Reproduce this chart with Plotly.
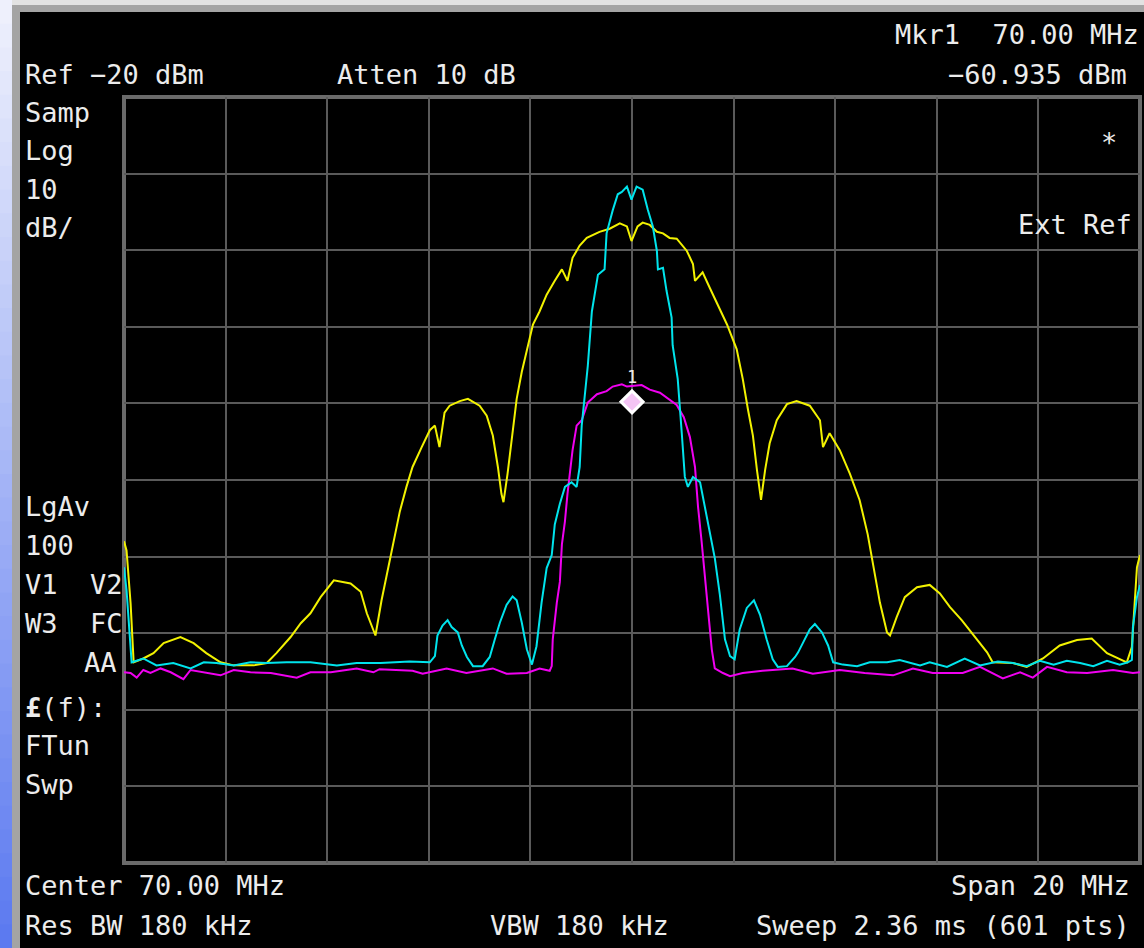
import plotly.graph_objects as go

# ---------------- data ----------------
# Frequency axis: 60..80 MHz (center 70 MHz, span 20 MHz); level axis -120..-20 dBm
x_range = [60.0, 80.0]
y_range = [-120.0, -20.0]

yellow_freq = [
    60.00, 60.05, 60.13, 60.19, 60.38, 60.58, 60.78, 61.11, 61.37, 61.62,
    61.90, 62.16, 62.55, 62.81, 63.00, 63.28, 63.48, 63.67, 63.87, 64.13,
    64.46, 64.66, 64.78, 64.95, 65.07, 65.13, 65.23, 65.33, 65.43, 65.56,
    65.68, 65.86, 66.02, 66.12, 66.21, 66.31, 66.41, 66.61, 66.77, 67.00,
    67.14, 67.26, 67.36, 67.43, 67.47, 67.55, 67.63, 67.73, 67.83, 67.93,
    68.05, 68.18, 68.32, 68.48, 68.62, 68.73, 68.83, 68.97, 69.11, 69.36,
    69.56, 69.76, 69.90, 69.99, 70.11, 70.21, 70.35, 70.49, 70.61, 70.74,
    70.88, 71.08, 71.20, 71.24, 71.39, 71.53, 71.69, 71.87, 72.06, 72.18,
    72.28, 72.38, 72.46, 72.54, 72.62, 72.71, 72.85, 73.05, 73.24, 73.50,
    73.70, 73.76, 73.89, 74.09, 74.29, 74.48, 74.64, 74.78, 74.88, 75.02,
    75.08, 75.21, 75.37, 75.61, 75.86, 76.06, 76.26, 76.49, 76.75, 76.99,
    77.10, 77.50, 77.77, 78.09, 78.42, 78.76, 79.05, 79.35, 79.74, 79.84,
    79.94, 80.00,
]
yellow_dbm = [
    -78.0, -79.2, -86.1, -93.8, -93.3, -92.6, -91.3, -90.5, -91.3, -92.6,
    -93.8, -94.2, -94.2, -93.9, -92.6, -90.5, -88.7, -87.4, -85.3, -83.1,
    -83.5, -84.6, -87.4, -90.3, -85.7, -83.7, -80.6, -77.1, -74.1, -70.9,
    -68.3, -65.7, -63.5, -62.9, -65.7, -61.2, -60.3, -59.7, -59.4, -60.3,
    -61.6, -64.2, -68.3, -71.8, -72.9, -69.2, -64.8, -59.4, -55.9, -52.9,
    -49.7, -48.0, -45.8, -44.0, -42.5, -44.0, -41.0, -39.4, -38.4, -37.6,
    -37.2, -36.5, -36.9, -38.8, -36.9, -36.4, -36.7, -37.6, -37.8, -38.4,
    -38.5, -40.1, -41.8, -44.0, -42.9, -44.9, -47.1, -49.7, -52.9, -56.8,
    -60.7, -64.2, -68.7, -72.6, -68.7, -65.2, -62.2, -60.1, -59.7, -60.3,
    -62.2, -65.7, -63.9, -66.1, -69.2, -72.6, -77.1, -82.4, -86.0, -89.9,
    -90.3, -87.9, -85.3, -84.0, -83.7, -84.8, -86.6, -88.3, -90.5, -92.5,
    -93.8, -93.9, -94.4, -93.3, -91.6, -90.9, -90.7, -92.6, -93.8, -91.8,
    -81.4, -79.8,
]

cyan_freq = [
    60.00, 60.05, 60.15, 60.38, 60.64, 60.97, 61.31, 61.57, 61.82, 62.16,
    62.49, 62.81, 63.20, 63.67, 64.19, 64.58, 65.05, 65.62, 66.02, 66.12,
    66.17, 66.27, 66.37, 66.45, 66.57, 66.65, 66.75, 66.87, 67.06, 67.20,
    67.30, 67.40, 67.53, 67.65, 67.73, 67.83, 67.93, 68.03, 68.12, 68.22,
    68.32, 68.42, 68.48, 68.58, 68.68, 68.81, 68.91, 68.97, 69.01, 69.07,
    69.13, 69.21, 69.33, 69.46, 69.50, 69.62, 69.72, 69.80, 69.90, 69.99,
    70.09, 70.21, 70.31, 70.41, 70.49, 70.51, 70.61, 70.68, 70.78, 70.80,
    70.90, 70.98, 71.04, 71.10, 71.20, 71.34, 71.43, 71.53, 71.63, 71.73,
    71.83, 71.93, 72.02, 72.12, 72.26, 72.40, 72.52, 72.65, 72.77, 72.87,
    73.05, 73.21, 73.27, 73.37, 73.50, 73.60, 73.74, 73.86, 73.96, 74.15,
    74.43, 74.68, 75.02, 75.27, 75.67, 75.86, 76.20, 76.55, 76.85, 77.20,
    77.50, 77.77, 78.03, 78.30, 78.56, 78.82, 79.08, 79.35, 79.60, 79.76,
    79.84, 79.86, 79.94, 80.00,
]
cyan_dbm = [
    -81.4, -84.4, -93.8, -93.3, -94.2, -93.9, -94.6, -93.8, -93.9, -94.2,
    -93.8, -93.9, -93.8, -93.8, -94.2, -93.9, -93.9, -93.7, -93.8, -93.0,
    -90.3, -89.0, -88.3, -89.2, -89.9, -91.6, -93.1, -94.3, -94.3, -93.1,
    -90.8, -88.6, -86.3, -85.2, -85.7, -88.6, -92.1, -94.1, -91.7, -86.0,
    -81.5, -79.8, -75.8, -73.1, -70.9, -70.3, -70.9, -68.3, -62.9, -59.4,
    -55.1, -48.0, -43.2, -42.5, -37.8, -34.8, -32.7, -32.4, -31.7, -33.4,
    -31.7, -32.1, -34.7, -36.9, -40.1, -42.5, -42.3, -45.3, -48.8, -52.4,
    -56.8, -63.9, -69.6, -70.9, -69.6, -70.3, -73.5, -77.1, -80.2, -85.0,
    -90.8, -93.0, -93.4, -89.5, -86.7, -85.7, -87.6, -90.8, -93.4, -94.4,
    -94.3, -93.1, -92.5, -91.2, -89.5, -88.8, -89.9, -91.6, -93.8, -94.1,
    -94.3, -93.8, -93.8, -93.5, -94.2, -93.8, -94.4, -93.3, -94.2, -93.7,
    -93.9, -94.3, -93.6, -94.1, -93.6, -93.9, -94.3, -93.6, -94.1, -93.8,
    -93.5, -89.2, -85.3, -83.7,
]

magenta_freq = [
    60.00, 60.13, 60.25, 60.38, 60.52, 60.72, 60.92, 61.17, 61.31, 61.57,
    61.90, 62.16, 62.49, 62.89, 63.40, 63.67, 64.07, 64.58, 64.91, 65.03,
    65.68, 65.88, 66.35, 66.74, 67.26, 67.53, 67.93, 68.18, 68.38, 68.42,
    68.44, 68.52, 68.58, 68.62, 68.68, 68.73, 68.79, 68.83, 68.91, 69.01,
    69.13, 69.31, 69.50, 69.62, 69.80, 69.90, 70.19, 70.35, 70.55, 70.74,
    70.88, 71.02, 71.14, 71.24, 71.30, 71.37, 71.43, 71.49, 71.57, 71.63,
    71.79, 71.93, 72.18, 72.57, 73.16, 73.56, 74.09, 74.58, 75.14, 75.53,
    75.92, 76.51, 76.85, 77.30, 77.64, 77.89, 78.17, 78.56, 78.96, 79.47,
    79.86, 80.00,
]
magenta_dbm = [
    -95.1, -95.2, -95.8, -94.8, -95.2, -94.6, -95.1, -96.0, -94.8, -95.1,
    -95.5, -94.8, -95.1, -95.2, -95.8, -95.1, -95.1, -94.6, -95.1, -94.7,
    -94.9, -95.3, -94.6, -95.2, -94.6, -95.3, -95.2, -94.6, -94.9, -94.3,
    -90.8, -86.0, -83.3, -78.4, -75.4, -71.8, -68.3, -66.1, -62.9, -62.2,
    -59.9, -58.8, -58.4, -57.8, -57.5, -57.8, -57.6, -58.2, -58.6, -59.5,
    -60.2, -61.8, -64.4, -68.3, -73.5, -78.0, -82.4, -86.9, -92.1, -94.6,
    -95.2, -95.6, -95.2, -94.9, -94.6, -95.3, -94.8, -95.2, -95.5, -94.6,
    -95.2, -95.2, -94.4, -95.9, -95.1, -95.8, -94.4, -95.1, -95.2, -94.8,
    -95.2, -95.1,
]

marker_freq = [70.00]
marker_level = [-59.8]
marker_label = "1"

# instrument annotations
mkr_text = "Mkr1\u00a0\u00a070.00 MHz"
mkr_level_text = "\u221260.935 dBm"
ref_text = "Ref \u221220 dBm"
atten_text = "Atten 10 dB"
left_top_labels = ["Samp", "Log", "10", "dB/"]
left_bottom_labels = ["LgAv", "100", "V1\u00a0\u00a0V2", "W3\u00a0\u00a0FC"]
left_bottom_labels2 = ["<b>£</b>(f):", "FTun", "Swp"]
bottom_texts = ["Center 70.00 MHz", "Span 20 MHz", "Res BW 180 kHz",
                "VBW 180 kHz", "Sweep 2.36 ms (601 pts)"]

# ---------------- layout helpers ----------------
W, H = 1144, 948
ML, MR, MT, MB = 124, 4, 97, 85
PW, PH = W - ML - MR, H - MT - MB


def px(x):
    return (x - ML) / PW


def py(y):
    return (H - MB - y) / PH


FONT = "DejaVu Sans Mono"
TXT = "#ececec"
FS = 27

fig = go.Figure()

fig.add_trace(go.Scatter(x=magenta_freq, y=magenta_dbm, mode="lines",
                         line=dict(color="#f000f0", width=2), hoverinfo="skip"))
fig.add_trace(go.Scatter(x=yellow_freq, y=yellow_dbm, mode="lines",
                         line=dict(color="#f2f200", width=2), hoverinfo="skip"))
fig.add_trace(go.Scatter(x=cyan_freq, y=cyan_dbm, mode="lines",
                         line=dict(color="#00e4ec", width=2), hoverinfo="skip"))
fig.add_trace(go.Scatter(x=marker_freq, y=marker_level, mode="markers",
                         marker=dict(symbol="diamond", size=17, color="#f4c4f4",
                                     line=dict(width=3, color="white")),
                         hoverinfo="skip"))

ann = []


def add_text(t, x, y, anchor="left", size=FS):
    ann.append(dict(text=t, x=px(x), y=py(y), xref="paper", yref="paper",
                    xanchor=anchor, yanchor="middle", showarrow=False,
                    font=dict(family=FONT, size=size, color=TXT)))


add_text(mkr_text, 1141, 34, "right")
add_text(ref_text, 23, 75)
add_text(atten_text, 335, 75)
add_text(mkr_level_text, 1129, 75, "right")
for i, t in enumerate(left_top_labels):
    add_text(t, 23, 112 + i * 38.5)
add_text("*", 1119, 143, "right")
add_text("Ext Ref", 1134, 225, "right")
for i, t in enumerate(left_bottom_labels):
    add_text(t, 23, 506 + i * 39)
add_text("AA", 119, 662, "right")
for i, t in enumerate(left_bottom_labels2):
    add_text(t, 23, 707 + i * 38.5)
add_text(bottom_texts[0], 23, 885)
add_text(bottom_texts[1], 1132, 885, "right")
add_text(bottom_texts[2], 23, 926)
add_text(bottom_texts[3], 488, 926)
add_text(bottom_texts[4], 1132, 926, "right")

ann.append(dict(text=marker_label, x=marker_freq[0], y=marker_level[0],
                xref="x", yref="y", yshift=25, showarrow=False,
                font=dict(family=FONT, size=17, color=TXT)))

shapes = []
# bezel: gradient strip on the left, light strip on top, grey frame
top_c = (238, 240, 252)
bot_c = (92, 122, 240)
N = 40
for i in range(N):
    t = i / (N - 1)
    c = tuple(int(round(top_c[k] + (bot_c[k] - top_c[k]) * t)) for k in range(3))
    y0 = H * i / N
    y1 = H * (i + 1) / N + 1
    shapes.append(dict(type="rect", xref="paper", yref="paper",
                       x0=px(0), x1=px(12), y0=py(y1), y1=py(y0),
                       fillcolor="rgb(%d,%d,%d)" % c, line=dict(width=0), layer="above"))
shapes.append(dict(type="rect", xref="paper", yref="paper",
                   x0=px(12), x1=px(W + 2), y0=py(5), y1=py(-2),
                   fillcolor="#e2e2e2", line=dict(width=0), layer="above"))
shapes.append(dict(type="rect", xref="paper", yref="paper",
                   x0=px(12), x1=px(W + 2), y0=py(12), y1=py(5),
                   fillcolor="#a4a4a4", line=dict(width=0), layer="above"))
shapes.append(dict(type="rect", xref="paper", yref="paper",
                   x0=px(12), x1=px(20), y0=py(H + 2), y1=py(5),
                   fillcolor="#a4a4a4", line=dict(width=0), layer="above"))
# graticule frame
shapes.append(dict(type="rect", xref="paper", yref="paper", x0=0, x1=1, y0=0, y1=1,
                   line=dict(color="#6a6a6a", width=4), layer="below"))

fig.update_layout(
    width=W, height=H,
    margin=dict(l=ML, r=MR, t=MT, b=MB, pad=0),
    paper_bgcolor="black", plot_bgcolor="black",
    showlegend=False,
    annotations=ann, shapes=shapes,
    xaxis=dict(range=x_range, tick0=60, dtick=2, showgrid=True, gridcolor="#5a5a5a",
               gridwidth=2, zeroline=False, showticklabels=False, ticks="",
               showline=False, fixedrange=True),
    yaxis=dict(range=y_range, tick0=-120, dtick=10, showgrid=True, gridcolor="#5a5a5a",
               gridwidth=2, zeroline=False, showticklabels=False, ticks="",
               showline=False, fixedrange=True),
)

fig.write_html("out.html", config={"displayModeBar": False},
               post_script="document.body.style.margin='0';document.body.style.overflow='hidden';")
